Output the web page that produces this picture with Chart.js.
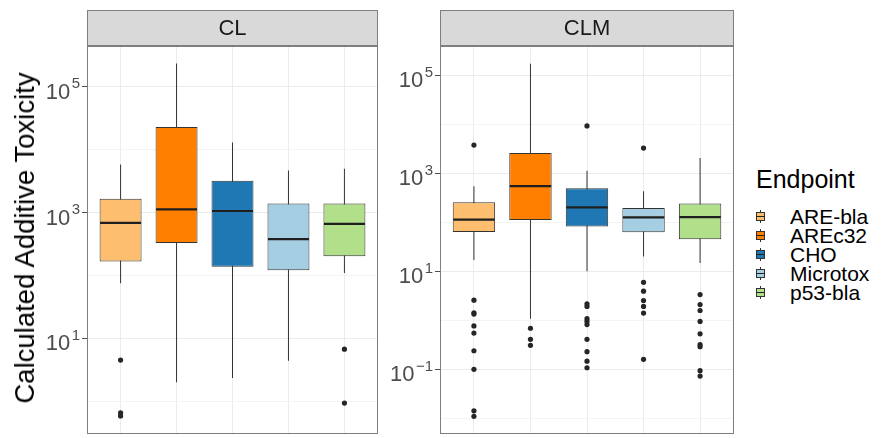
<!DOCTYPE html>
<html>
<head>
<meta charset="utf-8">
<script src="https://cdn.jsdelivr.net/npm/chart.js@4.4.0/dist/chart.umd.min.js"></script>
<style>
  html, body { margin: 0; padding: 0; background: #fff; }
  body { width: 890px; height: 438px; overflow: hidden; position: relative;
         font-family: "Liberation Sans", Arial, Helvetica, sans-serif; }
  canvas { position: absolute; top: 0; }
  #cvCL  { left: 0; }
  #cvCLM { left: 382px; }
  #ytitle { position: absolute; left: 25px; top: 238px; white-space: nowrap;
            font-size: 27.5px; color: #000; transform: translate(-50%, -50%) rotate(-90deg); }
  #legend { position: absolute; left: 756px; top: 167px; }
  #legend .ltitle { font-size: 25px; line-height: 25px; height: 25px; color: #000; }
  #legend .items { margin-top: 15px; }
  #legend .row { position: relative; height: 19.1px; line-height: 19.1px; }
  #legend .key { position: absolute; left: 0; top: 3px; width: 9px; height: 13px; }
  #legend .key .wh { position: absolute; left: 4px; top: 0; width: 1px; height: 13px; background: #333; }
  #legend .key .bx { position: absolute; left: 0; top: 2px; width: 9px; height: 9px;
                     box-sizing: border-box; border: 1px solid #333; }
  #legend .key .md { position: absolute; left: 0; top: 5.5px; width: 9px; height: 1.6px; background: #222; }
  #legend .lab { position: absolute; left: 34px; top: 0; font-size: 21px; color: #000; white-space: nowrap; }
</style>
</head>
<body>
<canvas id="cvCL" width="382" height="438"></canvas>
<canvas id="cvCLM" width="360" height="438"></canvas>
<div id="ytitle">Calculated Additive Toxicity</div>
<div id="legend">
  <div class="ltitle">Endpoint</div>
  <div class="items" id="legendItems"></div>
</div>
<script>
// Endpoints (x categories) and their fill colours
const endpoints = ['ARE-bla', 'AREc32', 'CHO', 'Microtox', 'p53-bla'];
const endpointColors = ['#FDBF6F', '#FF7F00', '#1F78B4', '#A6CEE3', '#B2DF8A'];
const panelNames = ['CL', 'CLM'];

// CL panel: box-plot statistics per endpoint
const clLow    = [75, 2.0, 2.33, 4.37, 109];
const clQ1     = [166, 327, 137, 121, 202];
const clMedian = [685, 1127, 1059, 378, 661];
const clQ3     = [1663, 22860, 3206, 1387, 1387];
const clHigh   = [5800, 234000, 13030, 4656, 4955];
const clOutliers = [
  [4.5, 0.65, 0.58],
  [],
  [],
  [],
  [6.7, 0.93]
];

// CLM panel: box-plot statistics per endpoint
const clmLow    = [17, 1.08, 10, 20.1, 14.8];
const clmQ1     = [63.7, 111, 81.7, 62.7, 45.2];
const clmMedian = [113, 545, 201, 126, 128];
const clmQ3     = [258, 2588, 497, 195, 243];
const clmHigh   = [545, 172600, 1132, 431, 2046];
const clmOutliers = [
  [3758, 2.58, 1.43, 1.34, 0.77, 0.55, 0.24, 0.10, 0.0143, 0.011],
  [0.69, 0.41, 0.31],
  [9247, 2.18, 1.92, 1.08, 0.95, 0.82, 0.41, 0.23, 0.147, 0.108],
  [3266, 5.98, 3.94, 2.54, 1.92, 1.41, 0.16],
  [3.36, 2.10, 1.59, 0.95, 0.53, 0.32, 0.29, 0.094, 0.073]
];

const FONT = '"Liberation Sans", Arial, Helvetica, sans-serif';
const BOX_WIDTH = 0.75;   // in category units

// Strip header, panel border and 10^n tick labels
const panelDecor = {
  id: 'panelDecor',
  beforeDraw(chart, args, opts) {
    const { ctx, chartArea: a } = chart;
    ctx.save();
    ctx.fillStyle = '#D9D9D9';
    ctx.fillRect(a.left, a.top - 36, a.right - a.left, 35);
    ctx.strokeStyle = '#7F7F7F';
    ctx.lineWidth = 1;
    ctx.strokeRect(a.left + 0.5, a.top - 35.5, a.right - a.left - 1, 35);
    ctx.fillStyle = '#1A1A1A';
    ctx.font = '22px ' + FONT;
    ctx.textAlign = 'center';
    ctx.textBaseline = 'middle';
    ctx.fillText(opts.label, (a.left + a.right) / 2, a.top - 17);
    ctx.restore();
  },
  afterDraw(chart) {
    const { ctx, chartArea: a } = chart;
    const y = chart.scales.y;
    ctx.save();
    ctx.strokeStyle = '#7F7F7F';
    ctx.lineWidth = 1;
    ctx.strokeRect(a.left + 0.5, a.top + 0.5, a.right - a.left - 1, a.bottom - a.top - 1);
    ctx.fillStyle = '#4D4D4D';
    ctx.textAlign = 'right';
    ctx.textBaseline = 'alphabetic';
    y.ticks.forEach(t => {
      const e = Math.round(Math.log10(t.value));
      if (Math.abs(e) % 2 !== 1) return;
      const py = y.getPixelForValue(t.value);
      const sup = e < 0 ? '\u2212' + (-e) : String(e);
      const right = a.left - 7;
      ctx.font = '15px ' + FONT;
      const sw = ctx.measureText(sup).width;
      ctx.fillText(sup, right, py + 1.5);
      ctx.font = '22px ' + FONT;
      ctx.fillText('10', right - sw - 1.5, py + 12);
    });
    ctx.restore();
  }
};

function logLimits(low, high, outliers) {
  const all = low.concat(high, ...outliers).map(v => Math.log10(v));
  const lo = Math.min(...all), hi = Math.max(...all);
  const pad = (hi - lo) * 0.05;
  return [lo - pad, hi + pad];
}

function makePanel(canvasId, name, low, q1, med, q3, high, outliers, axisWidth, padRight) {
  const [lo, hi] = logLimits(low, high, outliers);
  const isMajor = v => Math.abs(Math.round(Math.log10(v))) % 2 === 1;
  const halfBox = ctx => {
    const sx = ctx.chart.scales.x;
    return (sx.getPixelForValue(1) - sx.getPixelForValue(0)) * BOX_WIDTH / 2 - 0.5;
  };
  const outlierPts = [];
  outliers.forEach((list, i) => list.forEach(v => outlierPts.push({ x: i + 1, y: v })));

  return new Chart(document.getElementById(canvasId), {
    type: 'bar',
    data: {
      datasets: [
        {
          // whiskers
          type: 'bar',
          data: endpoints.map((e, i) => ({ x: i + 1, y: [low[i], high[i]] })),
          backgroundColor: '#333333',
          barThickness: 1,
          inflateAmount: 0,
          grouped: false,
          order: 4
        },
        {
          // boxes (Q1..Q3)
          type: 'bar',
          data: endpoints.map((e, i) => ({ x: i + 1, y: [q1[i], q3[i]] })),
          backgroundColor: endpointColors,
          borderColor: '#333333',
          borderWidth: 1,
          borderSkipped: false,
          barPercentage: BOX_WIDTH,
          categoryPercentage: 1,
          inflateAmount: 0,
          grouped: false,
          order: 3
        },
        {
          // medians
          type: 'scatter',
          data: endpoints.map((e, i) => ({ x: i + 1, y: med[i] })),
          pointStyle: 'line',
          pointRadius: halfBox,
          pointBorderColor: '#1F1F1F',
          pointBorderWidth: 2.2,
          order: 2
        },
        {
          // outliers
          type: 'scatter',
          data: outlierPts,
          pointStyle: 'circle',
          pointRadius: 2.6,
          pointBackgroundColor: '#262626',
          pointBorderWidth: 0,
          order: 1
        }
      ]
    },
    options: {
      responsive: false,
      devicePixelRatio: 1,
      animation: false,
      events: [],
      layout: { padding: { left: 0, right: padRight, top: 46, bottom: 1 } },
      plugins: {
        legend: { display: false },
        tooltip: { enabled: false },
        panelDecor: { label: name }
      },
      scales: {
        x: {
          type: 'linear',
          offset: false,
          min: 0.4,
          max: endpoints.length + 0.6,
          afterBuildTicks: s => { s.ticks = endpoints.map((e, i) => ({ value: i + 1 })); },
          afterFit: s => { s.height = 0; },
          grid: { color: '#EBEBEB', lineWidth: 1, drawTicks: false, offset: false },
          border: { display: false },
          ticks: { display: false }
        },
        y: {
          type: 'logarithmic',
          min: Math.pow(10, lo),
          max: Math.pow(10, hi),
          afterBuildTicks: s => {
            const t = [];
            for (let e = Math.ceil(lo); e <= Math.floor(hi); e++) t.push({ value: Math.pow(10, e) });
            s.ticks = t;
          },
          afterFit: s => { s.width = axisWidth; },
          grid: {
            color: c => (c.tick && isMajor(c.tick.value)) ? '#EBEBEB' : '#F4F4F4',
            lineWidth: 1,
            drawTicks: true,
            tickLength: 5,
            tickColor: c => (c.tick && isMajor(c.tick.value)) ? '#4D4D4D' : 'rgba(0,0,0,0)'
          },
          border: { display: false },
          ticks: { display: false }
        }
      }
    },
    plugins: [panelDecor]
  });
}

makePanel('cvCL', panelNames[0], clLow, clQ1, clMedian, clQ3, clHigh, clOutliers, 87, 2);
makePanel('cvCLM', panelNames[1], clmLow, clmQ1, clmMedian, clmQ3, clmHigh, clmOutliers, 58, 8);

// Legend keys built from the endpoint names and colours
const legendItems = document.getElementById('legendItems');
endpoints.forEach((name, i) => {
  const row = document.createElement('div');
  row.className = 'row';
  row.innerHTML =
    '<div class="key"><div class="wh"></div><div class="bx" style="background:' +
    endpointColors[i] + '"></div><div class="md"></div></div>' +
    '<div class="lab"></div>';
  row.querySelector('.lab').textContent = name;
  legendItems.appendChild(row);
});
</script>
</body>
</html>
